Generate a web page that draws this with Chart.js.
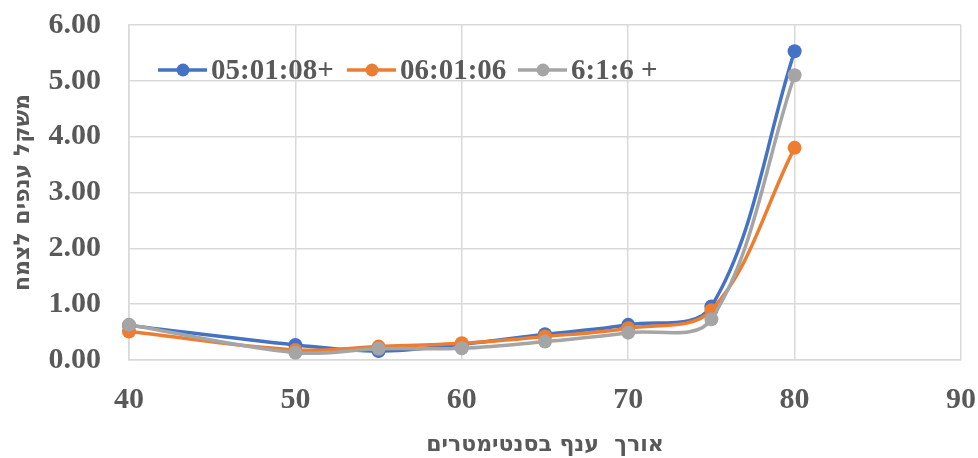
<!DOCTYPE html>
<html>
<head>
<meta charset="utf-8">
<script src="https://cdn.jsdelivr.net/npm/chart.js@4"></script>
<style>
  html, body { margin: 0; padding: 0; background: #fff; }
  #wrap { width: 978px; height: 458px; }
</style>
</head>
<body>
<div id="wrap"><canvas id="chart" width="978" height="458"></canvas></div>
<script>
// branch length (cm) on x, branch weight per plant on y
const lengths = [40, 50, 55, 60, 65, 70, 75, 80];
const seriesNames = ['05:01:08+', '06:01:06', '6:1:6 +'];
const blueValues = [0.62, 0.27, 0.16, 0.28, 0.46, 0.63, 0.96, 5.53];
const orangeValues = [0.51, 0.18, 0.24, 0.30, 0.42, 0.57, 0.89, 3.80];
const grayValues = [0.63, 0.13, 0.20, 0.21, 0.33, 0.49, 0.73, 5.10];
const colors = ['#4472C4', '#ED7D31', '#A5A5A5'];
const yTitle = 'משקל ענפים לצמח';
const xTitle = 'אורך  ענף בסנטימטרים';

const textColor = '#595959';
const gridColor = '#d9d9d9';
const serif = '"Liberation Serif", "Times New Roman", serif';
const hebrew = '"DejaVu Sans", "Liberation Sans", sans-serif';

function toPoints(vals) {
    return vals.map((v, i) => ({ x: lengths[i], y: v }));
}

function makeDataset(idx, vals) {
    return {
        label: seriesNames[idx],
        data: toPoints(vals),
        borderColor: colors[idx],
        backgroundColor: colors[idx],
        borderWidth: 3.5,
        pointRadius: 7,
        pointHoverRadius: 7,
        pointBorderWidth: 0,
        tension: 0.35,
        order: 3 - idx,
        clip: false
    };
}

// legend drawn inside the plot, line + dot + text like the original
const insideLegend = {
    id: 'insideLegend',
    afterDatasetsDraw(chart) {
        const ctx = chart.ctx;
        const y = 70;
        const starts = [158, 347, 518];
        ctx.save();
        ctx.font = 'bold 29px ' + serif;
        ctx.textBaseline = 'middle';
        ctx.textAlign = 'left';
        chart.data.datasets.forEach((ds, i) => {
            const x0 = starts[i];
            ctx.strokeStyle = ds.borderColor;
            ctx.lineWidth = 3.5;
            ctx.beginPath();
            ctx.moveTo(x0, y);
            ctx.lineTo(x0 + 49, y);
            ctx.stroke();
            ctx.fillStyle = ds.borderColor;
            ctx.beginPath();
            ctx.arc(x0 + 25, y, 6.5, 0, Math.PI * 2);
            ctx.fill();
            ctx.fillStyle = textColor;
            ctx.fillText(ds.label, x0 + 53, y + 2);
        });
        ctx.restore();
    }
};

new Chart(document.getElementById('chart'), {
    type: 'line',
    data: {
        datasets: [
            makeDataset(0, blueValues),
            makeDataset(1, orangeValues),
            makeDataset(2, grayValues)
        ]
    },
    options: {
        responsive: false,
        animation: false,
        layout: { padding: { top: 25, right: 17, left: 0, bottom: 0 } },
        plugins: {
            legend: { display: false },
            tooltip: { enabled: false }
        },
        scales: {
            x: {
                type: 'linear',
                min: 40,
                max: 90,
                afterFit(scale) {
                    scale.height = 98;
                    scale.paddingLeft = 0;
                    scale.paddingRight = 0;
                },
                ticks: {
                    stepSize: 10,
                    color: textColor,
                    padding: 22,
                    font: { family: serif, size: 30, weight: 'bold' }
                },
                grid: { color: gridColor, lineWidth: 1.5, drawTicks: false },
                border: { color: gridColor, width: 1.5 },
                title: {
                    display: true,
                    text: xTitle,
                    color: textColor,
                    padding: { top: 8, bottom: 0 },
                    font: { family: hebrew, size: 22, weight: 'bold' }
                }
            },
            y: {
                min: 0,
                max: 6,
                afterFit(scale) {
                    scale.width = 129;
                    scale.paddingTop = 0;
                    scale.paddingBottom = 0;
                },
                ticks: {
                    stepSize: 1,
                    color: textColor,
                    padding: 28,
                    callback: v => v.toFixed(2),
                    font: { family: serif, size: 30, weight: 'bold' }
                },
                grid: { color: gridColor, lineWidth: 1.5, drawTicks: false },
                border: { color: gridColor, width: 1.5 },
                title: {
                    display: true,
                    text: yTitle,
                    color: textColor,
                    padding: { top: 10, bottom: 0 },
                    font: { family: hebrew, size: 22, weight: 'bold' }
                }
            }
        }
    },
    plugins: [insideLegend]
});
</script>
</body>
</html>
